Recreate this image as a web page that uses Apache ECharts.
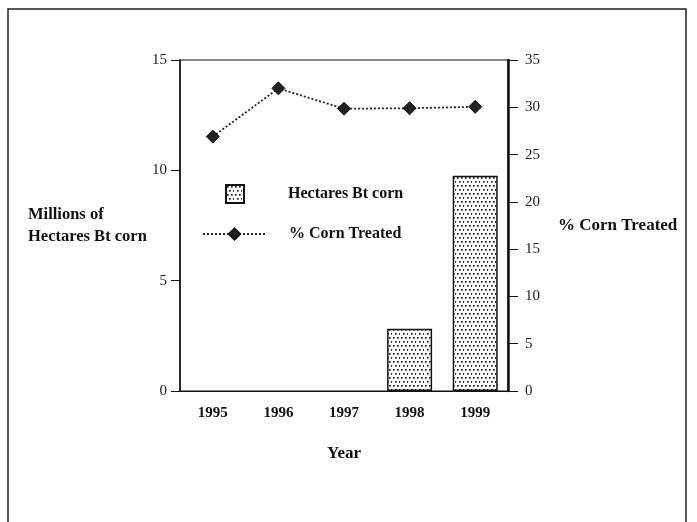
<!DOCTYPE html>
<html>
<head>
<meta charset="utf-8">
<script src="https://cdn.jsdelivr.net/npm/echarts@6/dist/echarts.min.js"></script>
<style>
  html, body { margin: 0; padding: 0; background: #fff; }
  #main { width: 697px; height: 522px; }
</style>
</head>
<body>
<div id="main"></div>
<script>
// data
var years = ['1995', '1996', '1997', '1998', '1999'];
var hectares = [null, null, null, 2.82, 9.76];   // millions of hectares Bt corn
var pctTreated = [26.9, 32.0, 29.85, 29.9, 30.05]; // % corn treated
var leftTicks = [0, 15, 5];   // min, max, interval
var rightTicks = [0, 35, 5];

var serif = '"Liberation Serif", "DejaVu Serif", serif';

// stippled fill for the bars
function dotPattern() {
  var c = document.createElement('canvas');
  c.width = 8; c.height = 8;
  var ctx = c.getContext('2d');
  ctx.fillStyle = '#fff';
  ctx.fillRect(0, 0, 8, 8);
  ctx.fillStyle = '#222';
  [[1, 1], [5, 1], [3, 5], [7, 5]].forEach(function (p) {
    ctx.fillRect(p[0], p[1], 1.7, 1.7);
  });
  return { image: c, repeat: 'repeat' };
}

var chart = echarts.init(document.getElementById('main'));

chart.setOption({
  animation: false,
  backgroundColor: '#fff',
  textStyle: { fontFamily: serif, color: '#111' },
  graphic: [{
    type: 'rect',
    shape: { x: 8, y: 9, width: 678, height: 530 },
    style: { fill: 'none', stroke: '#222', lineWidth: 1.5 }
  }],
  grid: {
    left: 180, right: 189, top: 60, bottom: 131,
    show: true, borderColor: '#111', borderWidth: 1.2,
    backgroundColor: 'transparent'
  },
  legend: [{
    data: [{ name: 'Hectares Bt corn', icon: 'rect' }],
    left: 220, top: 179,
    itemWidth: 18, itemHeight: 18,
    textStyle: { fontFamily: serif, fontSize: 16, fontWeight: 'bold', color: '#111', padding: [3, 0, 0, 39] }
  }, {
    data: ['% Corn Treated'],
    left: 197, top: 221,
    itemWidth: 63, itemHeight: 14,
    textStyle: { fontFamily: serif, fontSize: 16, fontWeight: 'bold', color: '#111', padding: [0, 0, 0, 18] }
  }],
  xAxis: {
    type: 'category',
    data: years,
    name: 'Year',
    nameLocation: 'middle',
    nameGap: 54,
    nameTextStyle: { fontFamily: serif, fontSize: 17, fontWeight: 'bold', color: '#111' },
    axisLine: { lineStyle: { color: '#111', width: 1.2 } },
    axisTick: { alignWithLabel: true, length: 6, lineStyle: { color: '#111' } },
    axisLabel: { fontFamily: serif, fontSize: 15, fontWeight: 'bold', color: '#111', margin: 15 }
  },
  yAxis: [{
    type: 'value',
    min: leftTicks[0], max: leftTicks[1], interval: leftTicks[2],
    name: 'Millions of\nHectares Bt corn',
    nameLocation: 'middle',
    nameRotate: 0,
    nameGap: 152,
    nameTextStyle: { fontFamily: serif, fontSize: 16.5, fontWeight: 'bold', color: '#111', align: 'left', lineHeight: 22 },
    axisLine: { show: true, lineStyle: { color: '#111', width: 1.5 } },
    axisTick: { show: true, length: 9, lineStyle: { color: '#111' } },
    axisLabel: { fontFamily: serif, fontSize: 15, color: '#222', margin: 13 },
    splitLine: { show: false }
  }, {
    type: 'value',
    position: 'right',
    min: rightTicks[0], max: rightTicks[1], interval: rightTicks[2],
    name: '% Corn Treated',
    nameLocation: 'middle',
    nameRotate: 0,
    nameGap: 50,
    nameTextStyle: { fontFamily: serif, fontSize: 17, fontWeight: 'bold', color: '#111', align: 'left' },
    axisLine: { show: true, lineStyle: { color: '#111', width: 2.5 } },
    axisTick: { show: true, length: 10, lineStyle: { color: '#111' } },
    axisLabel: { fontFamily: serif, fontSize: 15, color: '#222', margin: 17 },
    splitLine: { show: false }
  }],
  series: [{
    name: 'Hectares Bt corn',
    type: 'bar',
    yAxisIndex: 0,
    data: hectares,
    barWidth: 45,
    itemStyle: { color: dotPattern(), borderColor: '#111', borderWidth: 1.5 }
  }, {
    name: '% Corn Treated',
    type: 'line',
    yAxisIndex: 1,
    data: pctTreated,
    symbol: 'diamond',
    symbolSize: 13,
    itemStyle: { color: '#222', borderColor: '#111', borderWidth: 1 },
    lineStyle: { color: '#222', width: 1.8, type: [2, 2] },
    z: 5
  }]
});
</script>
</body>
</html>
